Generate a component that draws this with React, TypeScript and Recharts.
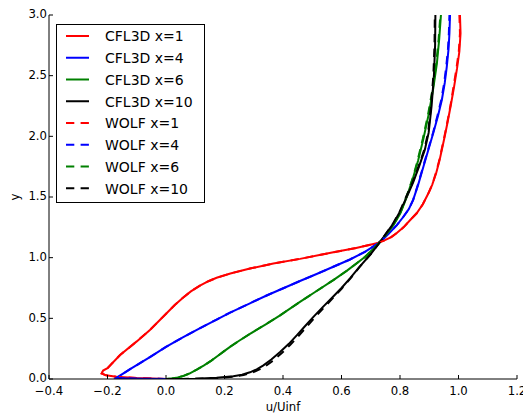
import React from 'react';
import { LineChart, Line, XAxis, YAxis, Legend } from 'recharts';

type Pt = { u: number; y: number };
const P = (arr: number[][]): Pt[] => arr.map(([u, y]) => ({ u, y }));

const xTicks = [-0.4, -0.2, 0.0, 0.2, 0.4, 0.6, 0.8, 1.0, 1.2];
const yTicks = [0.0, 0.5, 1.0, 1.5, 2.0, 2.5, 3.0];

const cfl3dX1 = P([
  [0.0, 0.0], [-0.1, 0.008], [-0.17, 0.018], [-0.205, 0.03], [-0.22, 0.045], [-0.215, 0.07],
  [-0.2, 0.09], [-0.157, 0.198], [-0.1, 0.31], [-0.055, 0.404], [0.002, 0.542], [0.03, 0.61],
  [0.059, 0.672], [0.085, 0.722], [0.116, 0.77], [0.145, 0.806], [0.173, 0.834], [0.22, 0.87],
  [0.287, 0.91], [0.367, 0.952], [0.458, 0.99], [0.572, 1.044], [0.65, 1.08], [0.72, 1.118],
  [0.745, 1.14], [0.77, 1.17], [0.79, 1.205], [0.812, 1.25], [0.835, 1.31], [0.857, 1.366],
  [0.878, 1.44], [0.895, 1.52], [0.91, 1.6], [0.924, 1.7], [0.935, 1.8], [0.944, 1.9],
  [0.953, 2.0], [0.963, 2.12], [0.974, 2.26], [0.985, 2.41], [0.995, 2.56], [1.003, 2.7],
  [1.007, 2.85], [1.005, 3.0],
]);
const cfl3dX4 = P([
  [0.0, 0.0], [-0.08, 0.003], [-0.14, 0.006], [-0.169, 0.01], [-0.12, 0.085], [-0.055, 0.18],
  [0.0, 0.265], [0.059, 0.345], [0.115, 0.418], [0.173, 0.49], [0.219, 0.547], [0.287, 0.624],
  [0.344, 0.688], [0.401, 0.748], [0.458, 0.808], [0.515, 0.865], [0.572, 0.925], [0.629, 0.985],
  [0.68, 1.048], [0.72, 1.11], [0.745, 1.16], [0.766, 1.21], [0.79, 1.27], [0.811, 1.335],
  [0.83, 1.4], [0.845, 1.476], [0.862, 1.6], [0.88, 1.75], [0.897, 1.89], [0.914, 2.03],
  [0.93, 2.17], [0.943, 2.3], [0.953, 2.44], [0.96, 2.575], [0.966, 2.72], [0.969, 2.85], [0.971, 3.0],
]);
const cfl3dX6 = P([
  [0.0, 0.0], [0.02, 0.004], [0.04, 0.012], [0.06, 0.026], [0.08, 0.045], [0.105, 0.077],
  [0.13, 0.112], [0.155, 0.152], [0.18, 0.196], [0.2, 0.232], [0.219, 0.265], [0.25, 0.315],
  [0.287, 0.372], [0.344, 0.455], [0.39, 0.525], [0.458, 0.635], [0.515, 0.725], [0.572, 0.815],
  [0.62, 0.895], [0.68, 1.005], [0.72, 1.1], [0.748, 1.175], [0.775, 1.26], [0.8, 1.36],
  [0.815, 1.45], [0.83, 1.55], [0.845, 1.66], [0.862, 1.8], [0.88, 1.98], [0.898, 2.18],
  [0.914, 2.4], [0.926, 2.6], [0.934, 2.8], [0.94, 3.0],
]);
const cfl3dX10 = P([
  [0.0, 0.0], [0.1, 0.003], [0.173, 0.01], [0.23, 0.022], [0.26, 0.035], [0.287, 0.055],
  [0.31, 0.08], [0.333, 0.112], [0.36, 0.16], [0.39, 0.222], [0.42, 0.29], [0.447, 0.36],
  [0.475, 0.435], [0.504, 0.512], [0.535, 0.59], [0.566, 0.665], [0.6, 0.75], [0.629, 0.83],
  [0.66, 0.92], [0.7, 1.03], [0.737, 1.146], [0.777, 1.28], [0.8, 1.38], [0.823, 1.5],
  [0.845, 1.62], [0.865, 1.75], [0.885, 1.89], [0.898, 2.03], [0.908, 2.25], [0.916, 2.5],
  [0.92, 2.75], [0.921, 3.0],
]);

const wolfX1 = P([
  [0.0, 0.0], [-0.1, 0.008], [-0.17, 0.018], [-0.205, 0.03], [-0.22, 0.045], [-0.215, 0.07],
  [-0.2, 0.09], [-0.157, 0.198], [-0.1, 0.31], [-0.055, 0.404], [0.002, 0.542], [0.03, 0.61],
  [0.059, 0.672], [0.085, 0.722], [0.116, 0.77], [0.145, 0.806], [0.173, 0.834], [0.22, 0.87],
  [0.287, 0.91], [0.367, 0.952], [0.458, 0.99], [0.572, 1.044], [0.65, 1.08], [0.72, 1.118],
  [0.745, 1.14], [0.77, 1.17], [0.79, 1.205], [0.812, 1.25], [0.835, 1.31], [0.857, 1.366],
  [0.878, 1.44], [0.895, 1.52], [0.91, 1.6], [0.923, 1.7], [0.934, 1.8], [0.943, 1.9],
  [0.952, 2.0], [0.962, 2.12], [0.973, 2.26], [0.983, 2.41], [0.993, 2.56], [1.001, 2.7],
  [1.005, 2.85], [1.003, 3.0],
]);
const wolfX4 = P([
  [0.0, 0.0], [-0.08, 0.003], [-0.14, 0.006], [-0.169, 0.01], [-0.12, 0.085], [-0.055, 0.18],
  [0.0, 0.265], [0.059, 0.345], [0.115, 0.418], [0.173, 0.49], [0.219, 0.547], [0.287, 0.624],
  [0.344, 0.688], [0.401, 0.748], [0.458, 0.808], [0.515, 0.865], [0.572, 0.925], [0.629, 0.985],
  [0.68, 1.048], [0.72, 1.11], [0.745, 1.16], [0.766, 1.21], [0.79, 1.27], [0.811, 1.335],
  [0.83, 1.4], [0.845, 1.476], [0.861, 1.6], [0.879, 1.75], [0.896, 1.89], [0.913, 2.03],
  [0.928, 2.17], [0.941, 2.3], [0.951, 2.44], [0.958, 2.575], [0.964, 2.72], [0.967, 2.85], [0.969, 3.0],
]);
const wolfX6 = P([
  [0.0, 0.0], [0.02, 0.004], [0.04, 0.012], [0.06, 0.026], [0.08, 0.045], [0.105, 0.077],
  [0.13, 0.112], [0.155, 0.152], [0.18, 0.196], [0.2, 0.232], [0.219, 0.265], [0.25, 0.315],
  [0.287, 0.372], [0.344, 0.455], [0.39, 0.525], [0.458, 0.635], [0.515, 0.725], [0.572, 0.815],
  [0.62, 0.895], [0.68, 1.005], [0.72, 1.1], [0.748, 1.175], [0.775, 1.26], [0.8, 1.36],
  [0.814, 1.45], [0.829, 1.55], [0.844, 1.66], [0.86, 1.8], [0.878, 1.98], [0.896, 2.18],
  [0.912, 2.4], [0.924, 2.6], [0.932, 2.8], [0.938, 3.0],
]);
const wolfX10 = P([
  [0.0, 0.0], [0.1, 0.002], [0.173, 0.008], [0.235, 0.02], [0.265, 0.032], [0.292, 0.05],
  [0.316, 0.075], [0.34, 0.106], [0.366, 0.152], [0.396, 0.214], [0.425, 0.282], [0.452, 0.352],
  [0.48, 0.428], [0.508, 0.505], [0.538, 0.584], [0.568, 0.66], [0.601, 0.746], [0.63, 0.827],
  [0.66, 0.918], [0.7, 1.03], [0.737, 1.146], [0.776, 1.28], [0.799, 1.38], [0.821, 1.5],
  [0.843, 1.62], [0.863, 1.75], [0.883, 1.89], [0.896, 2.03], [0.906, 2.25], [0.914, 2.5],
  [0.918, 2.75], [0.919, 3.0],
]);

const seriesNames = ['CFL3D x=1', 'CFL3D x=4', 'CFL3D x=6', 'CFL3D x=10', 'WOLF x=1', 'WOLF x=4', 'WOLF x=6', 'WOLF x=10'];
const seriesData = [cfl3dX1, cfl3dX4, cfl3dX6, cfl3dX10, wolfX1, wolfX4, wolfX6, wolfX10];
const seriesColors = ['#ff0000', '#0000ff', '#008000', '#000000', '#ff0000', '#0000ff', '#008000', '#000000'];
const seriesDashed = [false, false, false, false, true, true, true, true];

const FONT = '"DejaVu Sans", sans-serif';
const TICK_FS = 11.7;
const DASH = '8.3 6.3';

const fmt = (v: number) => v.toFixed(1).replace('-', '\u2212');

const BottomTick = (props: any) => {
  const { x, y, payload } = props;
  return (
    <g>
      <line x1={x} x2={x} y1={y} y2={y - 4} stroke="#000" strokeWidth={1} />
      <text x={x} y={y + 15.5} textAnchor="middle" fontFamily={FONT} fontSize={TICK_FS} fill="#000">
        {fmt(payload.value)}
      </text>
    </g>
  );
};
const TopTick = (props: any) => {
  const { x, y } = props;
  return <line x1={x} x2={x} y1={y} y2={y + 4} stroke="#000" strokeWidth={1} />;
};
const LeftTick = (props: any) => {
  const { x, y, payload } = props;
  return (
    <g>
      <line x1={x} x2={x + 4} y1={y} y2={y} stroke="#000" strokeWidth={1} />
      <text x={x - 2} y={y + 3.4} textAnchor="end" fontFamily={FONT} fontSize={TICK_FS} fill="#000">
        {fmt(payload.value)}
      </text>
    </g>
  );
};
const RightTick = (props: any) => {
  const { x, y } = props;
  return <line x1={x} x2={x - 4} y1={y} y2={y} stroke="#000" strokeWidth={1} />;
};

const LegendBox = () => (
  <svg width={150} height={180} style={{ display: 'block' }}>
    <rect x={0.5} y={0.5} width={148} height={178} fill="#fff" stroke="#000" strokeWidth={1} />
    {seriesNames.map((name, i) => {
      const cy = 12 + i * 21.75;
      return (
        <g key={name}>
          <line x1={10} x2={33} y1={cy} y2={cy} stroke={seriesColors[i]} strokeWidth={2}
            strokeDasharray={seriesDashed[i] ? DASH : undefined} />
          <text x={49} y={cy + 5.4} fontFamily={FONT} fontSize={14} fill="#000">{name}</text>
        </g>
      );
    })}
  </svg>
);

export default function App() {
  return (
    <LineChart width={523} height={410} margin={{ top: 7, right: 14, bottom: 0, left: 0 }}>
      <XAxis
        xAxisId={0}
        type="number"
        dataKey="u"
        domain={[-0.4, 1.2]}
        ticks={xTicks}
        allowDataOverflow
        height={39}
        tickSize={0}
        tickMargin={0}
        tickLine={false}
        tick={<BottomTick />}
        interval={0}
        axisLine={{ stroke: '#000', strokeWidth: 1 }}
        label={{
          content: (p: any) => {
            const vb = p.viewBox;
            return (
              <text x={vb.x + vb.width / 2} y={vb.y + 31.5} textAnchor="middle" fontFamily={FONT} fontSize={TICK_FS} fill="#000">
                u/Uinf
              </text>
            );
          },
        }}
      />
      <XAxis
        xAxisId="top"
        orientation="top"
        type="number"
        dataKey="u"
        domain={[-0.4, 1.2]}
        ticks={xTicks}
        allowDataOverflow
        height={0}
        tickSize={0}
        tickMargin={0}
        tickLine={false}
        tick={<TopTick />}
        interval={0}
        axisLine={{ stroke: '#000', strokeWidth: 1 }}
      />
      <YAxis
        yAxisId={0}
        type="number"
        domain={[0, 3]}
        ticks={yTicks}
        allowDataOverflow
        width={41}
        tickSize={0}
        tickMargin={0}
        tickLine={false}
        tick={<LeftTick />}
        interval={0}
        axisLine={{ stroke: '#000', strokeWidth: 1 }}
        label={{
          content: (p: any) => {
            const vb = p.viewBox;
            const cx = vb.x + 10.5;
            const cy = vb.y + vb.height / 2;
            return (
              <text x={cx} y={cy} transform={`rotate(-90, ${cx}, ${cy})`} textAnchor="middle" fontFamily={FONT} fontSize={TICK_FS} fill="#000">
                y
              </text>
            );
          },
        }}
      />
      <YAxis
        yAxisId="right"
        orientation="right"
        type="number"
        domain={[0, 3]}
        ticks={yTicks}
        allowDataOverflow
        width={0}
        tickSize={0}
        tickMargin={0}
        tickLine={false}
        tick={<RightTick />}
        interval={0}
        axisLine={{ stroke: '#000', strokeWidth: 1 }}
      />
      {seriesData.map((d, i) => (
        <Line
          key={seriesNames[i]}
          name={seriesNames[i]}
          data={d}
          dataKey="y"
          xAxisId={0}
          yAxisId={0}
          type="linear"
          stroke={seriesColors[i]}
          strokeWidth={2}
          strokeDasharray={seriesDashed[i] ? DASH : undefined}
          dot={false}
          activeDot={false}
          isAnimationActive={false}
        />
      ))}
      <Legend
        layout="vertical"
        align="center"
        verticalAlign="middle"
        content={() => <LegendBox />}
        wrapperStyle={{ position: 'absolute', left: 48, top: 16, width: 150, height: 180 }}
      />
    </LineChart>
  );
}
